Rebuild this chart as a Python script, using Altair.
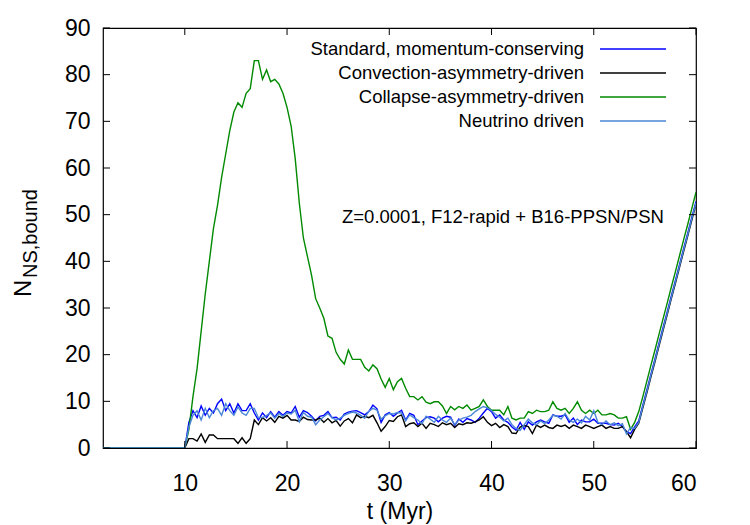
import altair as alt
import pandas as pd

# Time grid (Myr): one point at the start of the run, then 0.4 Myr sampling from 10 to 60 Myr
t_grid = [2.0] + [round(10.0 + 0.4 * i, 1) for i in range(126)]

# Number of bound neutron stars per kick prescription
standard = [0,
    0, 5.5, 8.0, 6.5, 9.0, 7.0, 8.5, 7.5, 9.5, 10.5,
    8.0, 9.5, 7.5, 9.5, 8.0, 8.0, 9.5, 7.5, 6.0, 7.5,
    6.5, 7.8, 6.6, 7.8, 7.0, 7.8, 7.5, 8.9, 6.6, 8.0,
    7.6, 6.8, 5.8, 6.8, 7.0, 7.8, 6.5, 6.6, 6.0, 7.3,
    7.7, 7.9, 8.0, 7.6, 7.1, 7.8, 9.2, 8.4, 5.5, 7.1,
    7.6, 6.8, 7.5, 8.1, 6.0, 7.4, 7.0, 5.0, 5.8, 6.5,
    6.7, 6.4, 5.6, 6.4, 6.8, 6.6, 4.8, 6.2, 5.5, 6.3,
    6.0, 5.5, 6.4, 7.5, 8.5, 7.8, 6.4, 7.1, 6.0, 5.5,
    4.5, 3.8, 5.5, 4.0, 5.6, 4.9, 5.6, 6.0, 5.6, 5.3,
    7.1, 6.8, 6.8, 7.1, 5.5, 6.4, 5.0, 6.0, 5.6, 5.6,
    6.2, 5.3, 5.3, 5.3, 5.0, 4.9, 5.3, 4.6, 3.5, 3.1,
    4.5, 5.8, 9.2, 12.5, 15.9, 19.2, 22.6, 26.0, 29.3, 32.7,
    36.0, 39.4, 42.8, 46.1, 49.5, 52.8]

convection = [0,
    0, 2.0, 2.0, 1.5, 3.0, 1.2, 2.8, 2.8, 2.0, 2.0,
    2.0, 2.0, 2.0, 1.0, 2.2, 1.0, 2.0, 6.0, 5.0, 6.5,
    5.8, 6.5, 5.5, 6.8, 6.4, 7.0, 6.0, 6.0, 5.7, 6.6,
    6.1, 6.0, 6.0, 6.4, 5.5, 6.3, 5.4, 5.9, 4.7, 5.8,
    6.3, 5.4, 7.1, 6.5, 6.8, 6.5, 7.0, 5.4, 3.6, 4.6,
    5.9, 5.7, 6.7, 7.1, 4.6, 5.2, 5.4, 4.6, 5.3, 4.2,
    5.3, 5.0, 4.6, 5.4, 5.0, 5.3, 4.4, 5.2, 5.0, 5.4,
    5.3, 5.6, 6.0, 6.7, 5.5, 4.8, 5.3, 4.4, 5.0, 4.6,
    3.2, 3.1, 4.5, 4.8, 4.6, 3.1, 4.9, 4.4, 4.9, 4.4,
    4.2, 4.9, 4.6, 4.9, 4.2, 4.9, 4.6, 4.2, 4.9, 4.6,
    4.2, 4.6, 4.9, 4.2, 4.6, 4.2, 4.2, 4.6, 3.5, 2.2,
    4.0, 5.3, 8.6, 11.9, 15.3, 18.6, 22.0, 25.4, 28.7, 32.1,
    35.4, 38.8, 42.2, 45.5, 48.9, 52.3]

collapse = [0,
    0, 4, 11, 17, 25, 33, 40, 47, 52, 58,
    63, 68, 72, 74, 73, 76, 77, 83, 83, 79,
    81, 78.5, 79, 78, 76, 73, 69, 62, 52.5, 45,
    41, 37, 32, 30, 27.8, 24, 23.5, 20.5, 19, 18,
    21, 19, 19, 19, 17.3, 16.5, 17.8, 17, 14.8, 13,
    14.9, 12.5, 14.2, 14.9, 12.8, 11, 11, 10.3, 11, 9.8,
    9.5, 9.9, 9.9, 9, 7.4, 8.9, 8.2, 8.9, 8.5, 9.2,
    8.1, 8.5, 8.9, 10.3, 8.9, 8.1, 8.1, 8.1, 7.1, 8.9,
    6.4, 6.0, 6.4, 6.4, 7.8, 7.4, 8.1, 7.8, 7.8, 8.1,
    9.9, 8.5, 8.1, 8.5, 7.4, 8.5, 9.9, 8.1, 7.4, 8.1,
    7.4, 8.1, 7.1, 7.1, 7.4, 7.1, 6.4, 6.4, 6.7, 4.0,
    5.5, 7.8, 11.0, 14.4, 17.8, 21.1, 24.5, 27.9, 31.2, 34.6,
    37.9, 41.3, 44.7, 48.0, 51.4, 54.8]

neutrino = [0,
    0, 4.5, 7.0, 8.0, 6.0, 8.5, 6.5, 8.0, 8.5, 7.0,
    9.5, 8.0, 7.0, 8.8, 7.5, 7.0, 8.5, 8.5, 6.5, 6.5,
    7.0, 7.5, 6.4, 7.4, 6.8, 7.5, 7.3, 8.1, 5.6, 7.6,
    6.8, 6.6, 5.0, 6.0, 6.7, 7.4, 6.5, 6.0, 6.4, 7.0,
    7.4, 7.7, 7.5, 7.0, 6.4, 7.9, 8.5, 8.1, 6.2, 6.9,
    7.4, 7.3, 7.6, 7.5, 5.8, 7.1, 6.5, 6.0, 5.2, 6.8,
    6.2, 5.5, 6.8, 6.0, 5.5, 6.4, 5.0, 6.0, 6.4, 6.6,
    7.0, 7.8, 8.4, 8.9, 8.6, 8.0, 7.2, 6.6, 5.8, 6.4,
    5.0, 4.2, 3.8, 5.0, 6.2, 5.4, 5.0, 5.8, 5.2, 6.0,
    7.0, 6.8, 6.2, 7.4, 6.0, 5.5, 6.2, 5.4, 6.8, 6.0,
    8.0, 5.5, 5.0, 5.8, 5.0, 5.4, 4.8, 5.2, 3.0, 4.4,
    4.2, 5.5, 8.9, 12.2, 15.6, 18.9, 22.3, 25.7, 29.0, 32.4,
    35.7, 39.1, 42.5, 45.8, 49.2, 52.5]

series_names = ["Standard, momentum-conserving", "Convection-asymmetry-driven",
                "Collapse-asymmetry-driven", "Neutrino driven"]
series_values = [standard, convection, collapse, neutrino]
series_colors = ["#0000ff", "#000000", "#008a00", "#4a86d6"]

x_ticks = [10, 20, 30, 40, 50, 60]
y_ticks = [0, 10, 20, 30, 40, 50, 60, 70, 80, 90]
annotation = "Z=0.0001, F12-rapid + B16-PPSN/PSN"

FONT = "Liberation Sans"
W, H = 593, 420
TICK = 7
LW = 1.4

x_scale = alt.Scale(domain=[2, 60], nice=False, zero=False)
y_scale = alt.Scale(domain=[0, 90], nice=False)

x_axis = alt.Axis(values=x_ticks, title="t (Myr)", ticks=False, tickSize=0, domain=False,
                  grid=False, labelFont=FONT, labelFontSize=23, labelPadding=24,
                  labelColor="black", titleFont=FONT, titleFontSize=23,
                  titleFontWeight="normal", titleColor="black", titlePadding=5, format="d")
y_axis = alt.Axis(values=y_ticks, title=None, ticks=False, tickSize=0, domain=False,
                  grid=False, labelFont=FONT, labelFontSize=23, labelPadding=13,
                  labelColor="black", format="d")


def X(field="t"):
    return alt.X(f"{field}:Q", scale=x_scale, axis=x_axis)


def Y(field="n"):
    return alt.Y(f"{field}:Q", scale=y_scale, axis=y_axis)


layers = []

# data curves, later series drawn on top
for name, vals, col in zip(series_names, series_values, series_colors):
    df = pd.DataFrame({"t": t_grid, "n": vals})
    layers.append(
        alt.Chart(df).mark_line(color=col, strokeWidth=LW, clip=True)
        .encode(x=X(), y=Y())
    )

# inward tick marks on all four sides of the frame
xt = pd.DataFrame({"t": x_ticks})
yt = pd.DataFrame({"n": y_ticks})
layers.append(alt.Chart(xt).mark_rule(color="black", strokeWidth=1)
              .encode(x=X(), y=alt.value(H), y2=alt.value(H - TICK)))
layers.append(alt.Chart(xt).mark_rule(color="black", strokeWidth=1)
              .encode(x=X(), y=alt.value(0), y2=alt.value(TICK)))
layers.append(alt.Chart(yt).mark_rule(color="black", strokeWidth=1)
              .encode(y=Y(), x=alt.value(0), x2=alt.value(TICK)))
layers.append(alt.Chart(yt).mark_rule(color="black", strokeWidth=1)
              .encode(y=Y(), x=alt.value(W), x2=alt.value(W - TICK)))

# key: right-aligned labels with line samples to their right
key_y = [21, 45, 69, 93]
for name, col, ky in zip(series_names, series_colors, key_y):
    kd = pd.DataFrame({"label": [name]})
    layers.append(alt.Chart(kd).mark_text(align="right", baseline="middle", font=FONT,
                                          fontSize=18.5, color="black")
                  .encode(text="label:N", x=alt.value(481), y=alt.value(ky)))
    layers.append(alt.Chart(kd).mark_rule(color=col, strokeWidth=LW)
                  .encode(x=alt.value(497), x2=alt.value(563), y=alt.value(ky)))

# model annotation
layers.append(alt.Chart(pd.DataFrame({"label": [annotation]}))
              .mark_text(align="left", baseline="middle", font=FONT, fontSize=18.5, color="black")
              .encode(text="label:N", x=alt.value(239), y=alt.value(189)))

# y-axis title N_{NS,bound}
layers.append(alt.Chart(pd.DataFrame({"label": ["N"]}))
              .mark_text(align="left", baseline="alphabetic", angle=270, font=FONT,
                         fontSize=24, color="black")
              .encode(text="label:N", x=alt.value(-72), y=alt.value(269)))
layers.append(alt.Chart(pd.DataFrame({"label": ["NS,bound"]}))
              .mark_text(align="left", baseline="alphabetic", angle=270, font=FONT,
                         fontSize=20, color="black")
              .encode(text="label:N", x=alt.value(-66), y=alt.value(250)))

chart = (
    alt.layer(*layers)
    .properties(width=W, height=H,
                autosize=alt.AutoSizeParams(type="none"),
                padding={"left": 103, "top": 28, "right": 54, "bottom": 77},
                background="white")
    .configure_view(stroke="black", strokeWidth=1.2)
)

chart.save("out.html", embed_options={"renderer": "svg", "actions": False})
